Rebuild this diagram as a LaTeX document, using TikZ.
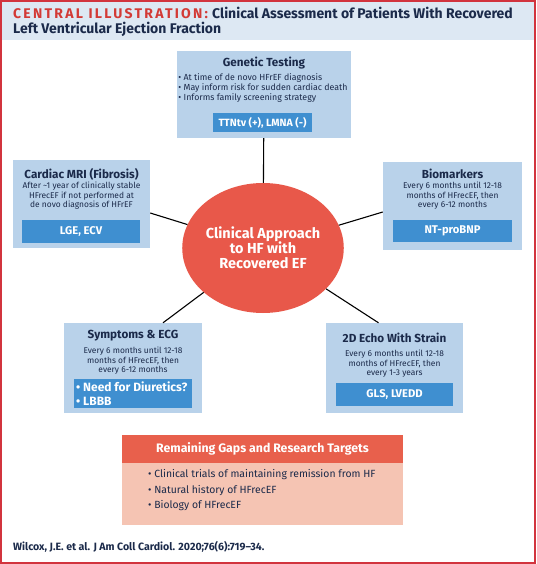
\documentclass[tikz,border=0pt]{standalone}
\usepackage{fontspec}
\setmainfont{Fira Sans}
\newfontfamily\capsfont[LetterSpace=16]{Fira Sans}
\usetikzlibrary{positioning,shapes.geometric}
\definecolor{jaccred}{HTML}{D2343E}
\definecolor{titlered}{HTML}{D33A36}
\definecolor{navy}{HTML}{1B2A4A}
\definecolor{bandblue}{HTML}{DDE8F3}
\definecolor{boxblue}{HTML}{B9D2EA}
\definecolor{barblue}{HTML}{3F8FD0}
\definecolor{hubred}{HTML}{E8584A}
\definecolor{gapred}{HTML}{E8604C}
\definecolor{gappink}{HTML}{F5C4B3}
\tikzset{
  cabox/.style={fill=boxblue, inner sep=0pt},
  catitle/.style={font=\bfseries\fontsize{11.7}{13}\selectfont, text=navy, inner sep=0pt},
  catext/.style={font=\fontsize{8.4}{9.6}\selectfont, align=center, text=navy, inner sep=0pt},
  cabar/.style={fill=barblue, text=white, font=\bfseries\fontsize{11.2}{13}\selectfont, inner sep=0pt},
  calink/.style={line width=1.1pt, black},
}

\begin{document}
\begin{tikzpicture}[x=1pt, y=-1pt]
  \useasboundingbox (0,0) rectangle (536,564);
  % frame and title band
  \fill[bandblue] (2,2) rectangle (534,40);
  \draw[jaccred, line width=2pt] (1,1) rectangle (535,563);
  \node[anchor=base west, inner sep=0pt, text=titlered, font=\capsfont\bfseries\fontsize{14}{15}\selectfont] (title0) at (13,19)
    {CENTRAL ILLUSTRATION:};
  \node[anchor=base west, inner sep=0pt, text=navy, font=\bfseries\fontsize{14}{15}\selectfont] (title1) at (212,19)
    {Clinical Assessment of Patients With Recovered};
  \node[anchor=base west, inner sep=0pt, text=navy, font=\bfseries\fontsize{14}{15}\selectfont] (title2) at (13,34)
    {Left Ventricular Ejection Fraction};

  % the hub
  \node[ellipse, fill=hubred, minimum width=143pt, minimum height=130pt, inner sep=0pt, align=center,
    text=white, font=\bfseries\fontsize{14.5}{15}\selectfont] (hub) at (263,248)
    {Clinical Approach\\to HF with\\Recovered EF};

  % genetic testing
  \node[cabox, minimum width=174pt, minimum height=87pt] (gen) at (264,94.5) {};
  \node[catitle] (gentitle) at (264,63) {Genetic Testing};
  \node[catext, align=left, font=\fontsize{8.8}{10}\selectfont] (gentext) at (263,88)
    {• At time of de novo HFrEF diagnosis\\• May inform risk for sudden cardiac death\\• Informs family screening strategy};
  \node[cabar, minimum width=99pt, minimum height=19pt, font=\bfseries\fontsize{10.5}{12}\selectfont] (genbar) at (262.5,122.5) {TTNtv (+), LMNA (-)};

  % cardiac MRI
  \node[cabox, minimum width=137pt, minimum height=88pt] (mri) at (81.5,204) {};
  \node[catitle] (mrititle) at (81.5,174) {Cardiac MRI (Fibrosis)};
  \node[catext] (mritext) at (81.5,196)
    {After \textasciitilde1 year of clinically stable\\HFrecEF if not performed at\\de novo diagnosis of HFrEF};
  \node[cabar, minimum width=118pt, minimum height=23pt] (mribar) at (81,231.5) {LGE, ECV};

  % biomarkers
  \node[cabox, minimum width=139pt, minimum height=88pt] (bio) at (452.5,206) {};
  \node[catitle] (biotitle) at (452.5,174) {Biomarkers};
  \node[catext] (biotext) at (452.5,196)
    {Every 6 months until 12-18\\months of HFrecEF, then\\every 6-12 months};
  \node[cabar, minimum width=119pt, minimum height=22pt] (biobar) at (452.5,231) {NT-proBNP};

  % symptoms and ECG
  \node[cabox, minimum width=138pt, minimum height=90pt] (sym) at (133,368) {};
  \node[catitle] (symtitle) at (133,336) {Symptoms \& ECG};
  \node[catext] (symtext) at (133,361)
    {Every 6 months until 12-18\\months of HFrecEF, then\\every 6-12 months};
  \node[cabar, minimum width=118pt, minimum height=29pt] (symbar) at (133,393.5) {};
  \node[anchor=west, align=left, inner sep=0pt, text=white, font=\bfseries\fontsize{12}{14}\selectfont] (symlist) at (76,394)
    {• Need for Diuretics?\\• LBBB};

  % echo
  \node[cabox, minimum width=137pt, minimum height=90pt] (echo) at (394.5,368) {};
  \node[catitle] (echotitle) at (394.5,338) {2D Echo With Strain};
  \node[catext] (echotext) at (394.5,364)
    {Every 6 months until 12-18\\months of HFrecEF, then\\every 1-3 years};
  \node[cabar, minimum width=117pt, minimum height=23pt] (echobar) at (394.5,394.5) {GLS, LVEDD};

  % spokes
  \draw[calink] (gen) -- (hub);
  \draw[calink] ([yshift=-9pt]mri.east) -- (hub);
  \draw[calink] ([yshift=-6pt]bio.west) -- (hub);
  \draw[calink] ([xshift=30pt]sym.north) -- (hub);
  \draw[calink] ([xshift=-16pt]echo.north) -- (hub);

  % gaps
  \node[fill=gappink, minimum width=281pt, minimum height=90pt, inner sep=0pt] (gaps) at (262.5,480) {};
  \node[fill=gapred, minimum width=281pt, minimum height=28pt, inner sep=0pt, text=white,
    font=\bfseries\fontsize{12.3}{13}\selectfont] (gapshead) at (262.5,449) {Remaining Gaps and Research Targets};
  \node[anchor=west, align=left, inner sep=0pt, text=navy, font=\fontsize{10.4}{15.5}\selectfont] (gapslist) at (148,490.5)
    {• Clinical trials of maintaining remission from HF\\• Natural history of HFrecEF\\• Biology of HFrecEF};

  % source
  \node[anchor=west, inner sep=0pt, text=navy, font=\bfseries\fontsize{10.6}{12}\selectfont] (source) at (13,547)
    {Wilcox, J.E. et al. J Am Coll Cardiol. 2020;76(6):719–34.};
\end{tikzpicture}
\end{document}
